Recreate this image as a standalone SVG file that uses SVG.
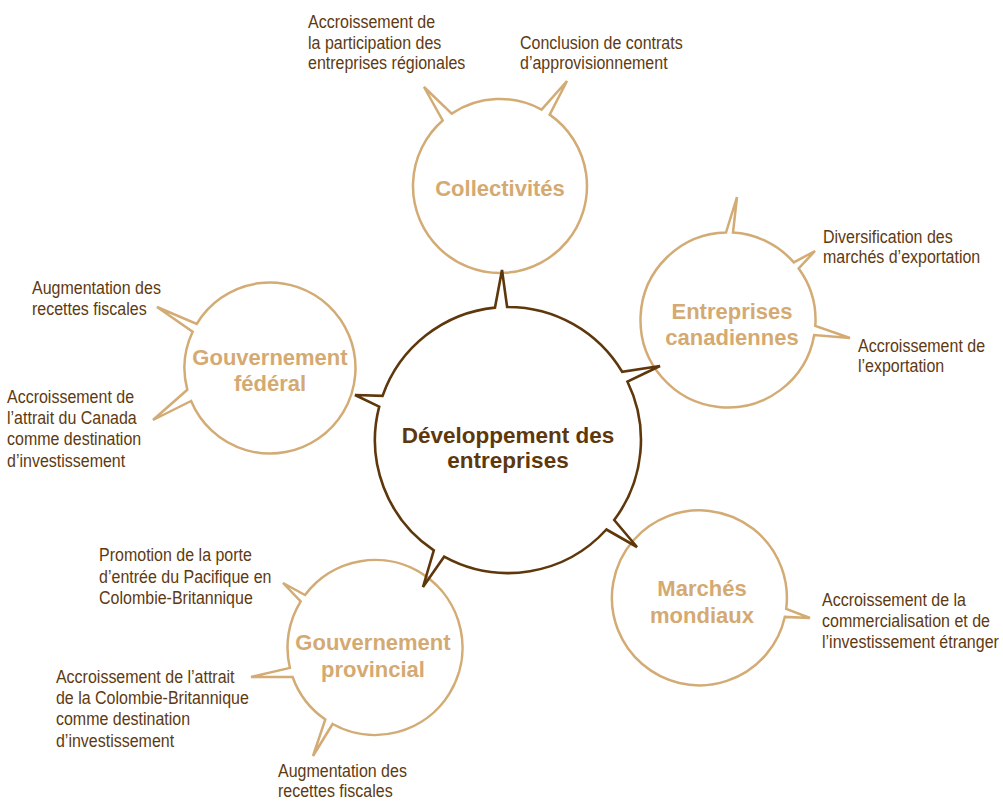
<svg xmlns="http://www.w3.org/2000/svg" width="1003" height="802" viewBox="0 0 1003 802">
<style>
.bub{fill:none;stroke:#d3ab74;stroke-width:2.5;stroke-linejoin:miter}
.core{fill:none;stroke:#5e370b;stroke-width:2.6;stroke-linejoin:miter}
.nl{font-family:"Liberation Sans",Arial,sans-serif;font-weight:bold;font-size:22px;fill:#d4aa72;text-anchor:middle}
.cl{font-family:"Liberation Sans",Arial,sans-serif;font-weight:bold;font-size:22.5px;fill:#5e370b;text-anchor:middle}
.lb{font-family:"Liberation Sans",Arial,sans-serif;font-size:18.5px;fill:#5e3a12}
</style>
<rect width="1003" height="802" fill="#ffffff"/>
<g id="connectors"></g>
<g id="collectivites">
<path class="bub" d="M451.7,113.6 A87,87 0 0 1 541.6,109.6 L567,81 L549.7,114.6 A87,87 0 1 1 442.7,120.5 L424,87 Z"/>
<text class="nl" x="500" y="196">Collectivités</text>
</g>
<g id="entreprises-canadiennes">
<path class="bub" d="M733.0,232.6 A87.5,87.5 0 0 1 793.8,262.4 L815,251 L798.7,268.4 A87.5,87.5 0 0 1 815.3,326.0 L850,338 L814.2,335.0 A87.5,87.5 0 1 1 726.0,232.5 L737,197 Z"/>
<text class="nl" x="732" y="319">Entreprises</text>
<text class="nl" x="732" y="345">canadiennes</text>
</g>
<g id="gouvernement-federal">
<path class="bub" d="M191.1,401.0 L153,420 L187.3,389.8 A85.5,85.5 0 0 1 192.6,331.7 L157,307 L196.7,324.0 A85.5,85.5 0 1 1 191.1,401.0 Z"/>
<text class="nl" x="270" y="365">Gouvernement</text>
<text class="nl" x="270" y="391">fédéral</text>
</g>
<g id="gouvernement-provincial">
<path class="bub" d="M332.6,724.0 L313,756 L325.3,719.5 A87.5,87.5 0 0 1 292.6,677.0 L251,677 L289.9,667.9 A87.5,87.5 0 0 1 300.7,601.3 L283,583 L305.0,595.0 A87.5,87.5 0 1 1 332.6,724.0 Z"/>
<text class="nl" x="373" y="650">Gouvernement</text>
<text class="nl" x="373" y="677">provincial</text>
</g>
<g id="marches-mondiaux">
<path class="bub" d="M786.2,608.9 L810,618 L784.8,616.9 A87.5,87.5 0 1 1 786.2,608.9 Z"/>
<text class="nl" x="702" y="596">Marchés</text>
<text class="nl" x="702" y="623">mondiaux</text>
</g>
<g id="developpement">
<path class="core" d="M507.1,307.0 A133,133 0 0 1 622.2,371.9 L660,366 L627.5,381.7 A133,133 0 0 1 614.2,520.0 L637,547 L606.4,529.5 A133,133 0 0 1 444.1,556.7 L423,587 L433.8,550.4 A133,133 0 0 1 379.2,406.7 L355,395 L382.6,395.8 A133,133 0 0 1 495.0,307.6 L502,270 Z"/>
<text class="cl" x="508" y="443">Développement des</text>
<text class="cl" x="508" y="468">entreprises</text>
</g>
<g id="labels" transform="scale(0.865 1)">
<text class="lb" x="356.1" y="28">Accroissement de</text>
<text class="lb" x="356.1" y="49">la participation des</text>
<text class="lb" x="356.1" y="69">entreprises régionales</text>
<text class="lb" x="601.2" y="49">Conclusion de contrats</text>
<text class="lb" x="601.2" y="69">d’approvisionnement</text>
<text class="lb" x="951.4" y="243">Diversification des</text>
<text class="lb" x="951.4" y="263">marchés d’exportation</text>
<text class="lb" x="991.9" y="352">Accroissement de</text>
<text class="lb" x="991.9" y="372">l’exportation</text>
<text class="lb" x="37" y="294">Augmentation des</text>
<text class="lb" x="37" y="315">recettes fiscales</text>
<text class="lb" x="8.1" y="403">Accroissement de</text>
<text class="lb" x="8.1" y="424">l’attrait du Canada</text>
<text class="lb" x="8.1" y="445">comme destination</text>
<text class="lb" x="8.1" y="467">d’investissement</text>
<text class="lb" x="114.5" y="561">Promotion de la porte</text>
<text class="lb" x="114.5" y="583">d’entrée du Pacifique en</text>
<text class="lb" x="114.5" y="604">Colombie-Britannique</text>
<text class="lb" x="64.7" y="683">Accroissement de l’attrait</text>
<text class="lb" x="64.7" y="704">de la Colombie-Britannique</text>
<text class="lb" x="64.7" y="725">comme destination</text>
<text class="lb" x="64.7" y="747">d’investissement</text>
<text class="lb" x="321.4" y="777">Augmentation des</text>
<text class="lb" x="321.4" y="797">recettes fiscales</text>
<text class="lb" x="950.3" y="606">Accroissement de la</text>
<text class="lb" x="950.3" y="627">commercialisation et de</text>
<text class="lb" x="950.3" y="648">l’investissement étranger</text>
</g>
</svg>
